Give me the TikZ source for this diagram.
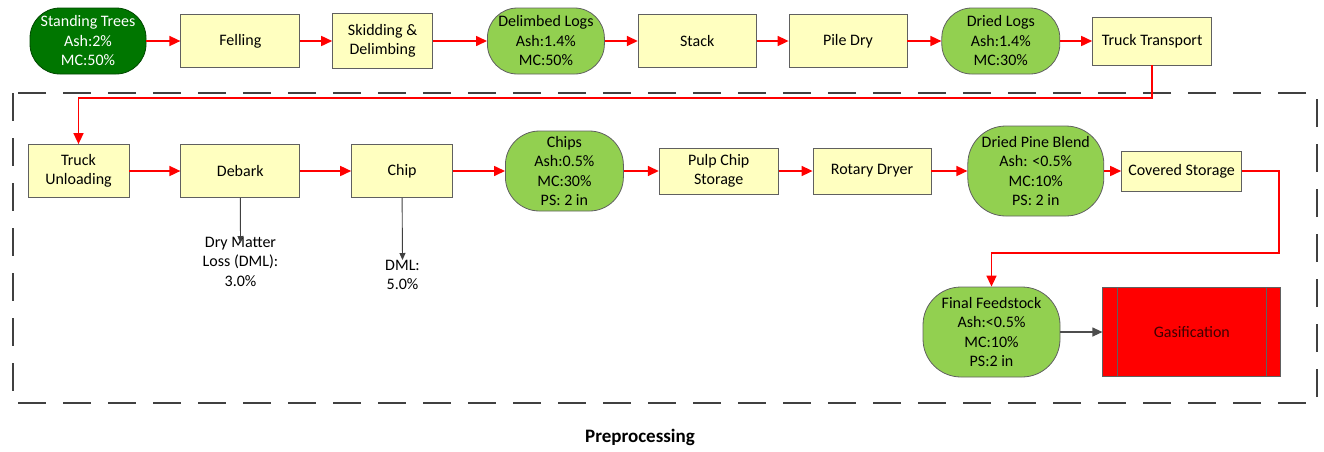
\documentclass[tikz,border=0pt]{standalone}
\usepackage{fontspec}
\setmainfont{Carlito}
\usetikzlibrary{arrows.meta,positioning}

\definecolor{boxyellow}{RGB}{255,255,192}
\definecolor{darkleaf}{RGB}{0,118,0}
\definecolor{leaf}{RGB}{146,208,80}
\definecolor{edgegray}{RGB}{96,96,96}
\definecolor{framegray}{RGB}{64,64,64}

\begin{document}
\begin{tikzpicture}[x=1pt,y=-1pt,node distance=34pt,
	process/.style={draw=edgegray,fill=boxyellow,line width=0.8pt,minimum width=119pt,minimum height=53pt,
		align=center,inner sep=2pt,font=\fontsize{16}{19.5}\selectfont},
	material/.style={process,fill=leaf,rounded corners=30pt,minimum width=118pt,minimum height=66pt},
	note/.style={align=center,inner sep=0pt,font=\fontsize{16}{19.5}\selectfont},
	flow/.style={draw=red,line width=1.6pt,-{Triangle[length=11pt,width=10pt]}},
	loss/.style={draw=black!75,line width=0.9pt,-{Triangle[length=7pt,width=6pt]}}]

	\useasboundingbox (0,0) rectangle (1324,451);

	% The preprocessing frame, drawn first so that it stays behind.
	\draw[framegray,line width=2.4pt,dash pattern=on 28pt off 17pt] (13,93) rectangle (1317,403);

	% Harvest and transport, first row.
	\node[material,fill=darkleaf,draw=darkleaf!60!black,text=white,minimum width=116pt] (trees) at (88,41) {Standing Trees\\Ash:2\%\\MC:50\%};
	\node[process] (fell) [right=34pt of trees] {Felling};
	\node[process,minimum width=100pt,minimum height=55pt] (skid) [right=32pt of fell] {Skidding \&\\Delimbing};
	\node[material,minimum width=117pt] (dlogs) [right=54pt of skid] {Delimbed Logs\\Ash:1.4\%\\MC:50\%};
	\node[process,minimum width=118pt] (stack) [right=33pt of dlogs] {Stack};
	\node[process,minimum width=118pt] (pile) [right=32pt of stack] {Pile Dry};
	\node[material] (drlogs) [right=34pt of pile] {Dried Logs\\Ash:1.4\%\\MC:30\%};
	\node[process,minimum height=48pt] (truck) [right=32pt of drlogs] {Truck Transport};

	% Preprocessing, second row.
	\node[process,minimum width=101pt] (unload) at (78.5,171) {Truck\\Unloading};
	\node[process] (debark) [right=51pt of unload] {Debark};
	\node[process,minimum width=101pt] (chip) [right=51pt of debark] {Chip};
	\node[material,minimum height=80pt,rounded corners=34pt] (chips) [right=52pt of chip] {Chips\\Ash:0.5\%\\MC:30\%\\PS: 2 in};
	\node[process,minimum height=46pt] (pulp) [right=35pt of chips] {Pulp Chip\\Storage};
	\node[process,minimum width=118pt,minimum height=46pt] (dryer) [right=34pt of pulp] {Rotary Dryer};
	\node[material,minimum width=136pt,minimum height=90pt,rounded corners=38pt] (blend) [right=36pt of dryer] {Dried Pine Blend\\Ash: <0.5\%\\MC:10\%\\PS: 2 in};
	\node[process,minimum width=120pt,minimum height=40pt] (store) [right=17pt of blend] {Covered Storage};

	% Dry matter losses
	\node[note,anchor=north] (dml1) at (240.5,237) {Dry Matter\\Loss (DML):\\3.0\%};
	\node[note,anchor=north] (dml2) at (402.5,260) {DML:\\5.0\%};

	% Final feedstock and the conversion step.
	\node[material,minimum width=137pt,minimum height=90pt,rounded corners=38pt] (feed) at (991.5,332) {Final Feedstock\\Ash:<0.5\%\\MC:10\%\\PS:2 in};
	\node[process,fill=red,minimum width=178pt,minimum height=89pt,text=black!75!red] (gasif) [right=42pt of feed] {Gasification};
	\draw[edgegray,line width=0.8pt] ([xshift=15pt]gasif.north west) -- ([xshift=15pt]gasif.south west)
		([xshift=-15pt]gasif.north east) -- ([xshift=-15pt]gasif.south east);

	\node[font=\fontsize{19}{22}\selectfont\bfseries] (title) at (640,437) {Preprocessing};

	% Bend points of the long connectors
	\coordinate (bendA) at (0,98);
	\coordinate (bendB) at (1279,253);

	% Connectors
	\foreach \a/\b in {trees/fell,fell/skid,skid/dlogs,dlogs/stack,stack/pile,pile/drlogs,drlogs/truck,
		unload/debark,debark/chip,chip/chips,chips/pulp,pulp/dryer,dryer/blend,blend/store}
		\draw[flow] (\a) -- (\b);
	\draw[flow] (truck.south) -- (truck.south |- bendA) -| (unload.north);
	\draw[flow] (store.east) -| (bendB) -| (feed.north);
	\draw[loss] (debark.south) -- ([yshift=-6pt]dml1.north);
	\draw[loss] (chip.south) -- (dml2.north);
	\draw[draw=edgegray!80!black,line width=1.2pt,-{Triangle[length=10pt,width=9pt]}] (feed) -- (gasif);

\end{tikzpicture}
\end{document}
